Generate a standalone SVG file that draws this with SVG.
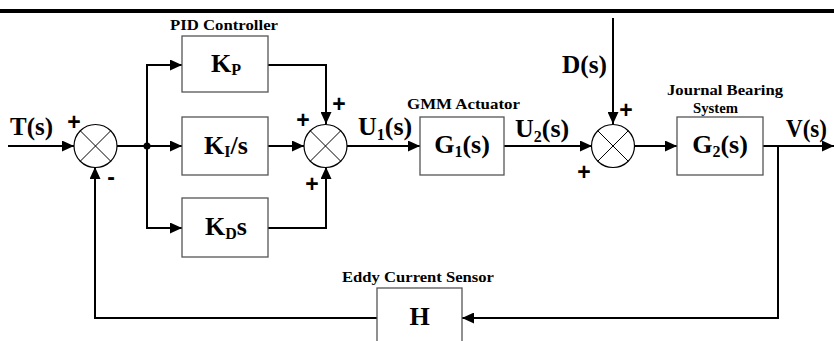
<svg xmlns="http://www.w3.org/2000/svg" width="834" height="341" viewBox="0 0 834 341">
<style>
.box{fill:#fff;stroke:#555;stroke-width:1.3}
.sum{fill:#fff;stroke:#000;stroke-width:1.2}
.x{stroke:#000;stroke-width:1}
.ln{fill:none;stroke:#000;stroke-width:2}
.big{font-family:'Liberation Serif',serif;font-weight:700;font-size:26px;fill:#000}
.mid{text-anchor:middle}
.sub{font-size:16px}
.sm{font-family:'Liberation Serif',serif;font-weight:700;font-size:15px;fill:#000}
.sg{font-family:'Liberation Sans',sans-serif;font-weight:700;font-size:23px;fill:#000;text-anchor:middle}
</style>
<defs>
<marker id="ar" markerWidth="13" markerHeight="11" refX="12" refY="5.5" orient="auto" markerUnits="userSpaceOnUse">
<path d="M0,0 L12,5.5 L0,11 Z" fill="#000"/>
</marker>
</defs>
<rect x="0" y="9" width="834" height="4" fill="#000"/>
<g id="connectors">
<path class="ln" d="M8,146 H74" marker-end="url(#ar)"/>
<path class="ln" d="M117,146 H182" marker-end="url(#ar)"/>
<path class="ln" d="M147,146 V65 H182" marker-end="url(#ar)"/>
<path class="ln" d="M147,146 V228 H182" marker-end="url(#ar)"/>
<circle cx="147" cy="146" r="3.5" fill="#000"/>
<path class="ln" d="M268,65 H326 V124" marker-end="url(#ar)"/>
<path class="ln" d="M268,146 H304" marker-end="url(#ar)"/>
<path class="ln" d="M268,228 H326 V167" marker-end="url(#ar)"/>
<path class="ln" d="M347,146 H420" marker-end="url(#ar)"/>
<path class="ln" d="M504,146 H592" marker-end="url(#ar)"/>
<path class="ln" d="M613,18 V124" marker-end="url(#ar)"/>
<path class="ln" d="M634,146 H677" marker-end="url(#ar)"/>
<path class="ln" d="M763,146 H834" marker-end="url(#ar)"/>
<path class="ln" d="M778,146 V318 H462" marker-end="url(#ar)"/>
<path class="ln" d="M377,318 H95 V167" marker-end="url(#ar)"/>
</g>
<g id="sum1">
<circle class="sum" cx="95.5" cy="146" r="21.5"/>
<path class="x" d="M80.3,130.8 L110.7,161.2 M110.7,130.8 L80.3,161.2"/>
<text class="sg" x="74" y="130">+</text>
<text class="sg" x="111" y="185">-</text>
</g>
<g id="sum2">
<circle class="sum" cx="325.5" cy="146" r="21.5"/>
<path class="x" d="M310.3,130.8 L340.7,161.2 M340.7,130.8 L310.3,161.2"/>
<text class="sg" x="339" y="112">+</text>
<text class="sg" x="303" y="128">+</text>
<text class="sg" x="312" y="192">+</text>
</g>
<g id="sum3">
<circle class="sum" cx="613" cy="146" r="21.5"/>
<path class="x" d="M597.8,130.8 L628.2,161.2 M628.2,130.8 L597.8,161.2"/>
<text class="sg" x="626" y="118">+</text>
<text class="sg" x="584" y="180">+</text>
</g>
<g id="input">
<text class="big" x="10" y="135" textLength="43" lengthAdjust="spacingAndGlyphs">T(s)</text>
</g>
<g id="kp">
<text class="sm" x="170" y="30" textLength="108" lengthAdjust="spacingAndGlyphs">PID Controller</text>
<rect class="box" x="182" y="36" width="86" height="56"/>
<text class="big mid" x="226" y="72">K<tspan class="sub" dy="3">P</tspan></text>
</g>
<g id="ki">
<rect class="box" x="182" y="117" width="86" height="58"/>
<text class="big mid" x="226" y="154">K<tspan class="sub" dy="3">I</tspan><tspan dy="-3">/s</tspan></text>
</g>
<g id="kd">
<rect class="box" x="182" y="198" width="86" height="59"/>
<text class="big mid" x="226" y="235">K<tspan class="sub" dy="4">D</tspan><tspan dy="-4">s</tspan></text>
</g>
<g id="u1">
<text class="big" x="358" y="135">U<tspan class="sub" dy="5">1</tspan><tspan dy="-5">(s)</tspan></text>
</g>
<g id="g1">
<text class="sm" x="407" y="109" textLength="113" lengthAdjust="spacingAndGlyphs">GMM Actuator</text>
<rect class="box" x="420" y="117" width="84" height="58"/>
<text class="big mid" x="462" y="153">G<tspan class="sub" dy="4">1</tspan><tspan dy="-4">(s)</tspan></text>
</g>
<g id="u2">
<text class="big" x="515" y="137">U<tspan class="sub" dy="5">2</tspan><tspan dy="-5">(s)</tspan></text>
</g>
<g id="d">
<text class="big" x="562" y="73" textLength="45" lengthAdjust="spacingAndGlyphs">D(s)</text>
</g>
<g id="g2">
<text class="sm" x="667" y="95" textLength="116" lengthAdjust="spacingAndGlyphs">Journal Bearing</text>
<text class="sm" x="693" y="113" textLength="45" lengthAdjust="spacingAndGlyphs">System</text>
<rect class="box" x="677" y="117" width="86" height="58"/>
<text class="big mid" x="720" y="153">G<tspan class="sub" dy="4">2</tspan><tspan dy="-4">(s)</tspan></text>
</g>
<g id="out">
<text class="big" x="786" y="137" textLength="41" lengthAdjust="spacingAndGlyphs">V(s)</text>
</g>
<g id="h">
<text class="sm" x="342" y="282" textLength="152" lengthAdjust="spacingAndGlyphs">Eddy Current Sensor</text>
<rect class="box" x="377" y="288" width="85" height="60"/>
<text class="big mid" x="419.5" y="325">H</text>
</g>
</svg>
